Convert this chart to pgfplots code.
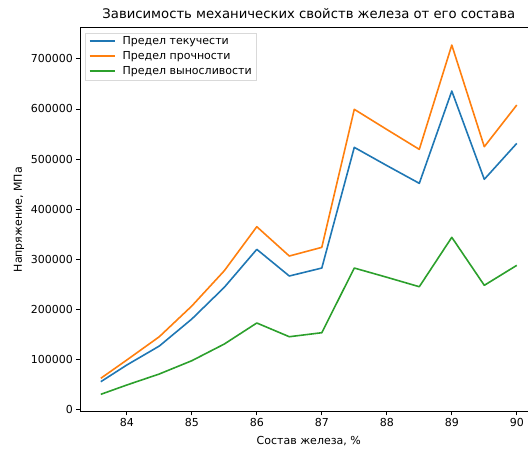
\documentclass[border=0pt]{standalone}
\usepackage{fontspec}
\setmainfont{DejaVu Sans}
\usepackage{pgfplots}
\pgfplotsset{compat=1.18}
\definecolor{tabblue}{HTML}{1F77B4}
\definecolor{taborange}{HTML}{FF7F0E}
\definecolor{tabgreen}{HTML}{2CA02C}
\newcommand{\fs}{\fontsize{11}{13}\selectfont}
% legend key: a short coloured rule in front of the entry text
\newcommand{\key}[1]{{\color{#1}\rule[0.3em]{25pt}{2pt}}\hspace{8pt}}
\pgfplotsset{
  mplline/.style={line width=1.6pt, line join=round},
}

\begin{document}
\begin{tikzpicture}[x=1pt,y=1pt]
\begin{axis}[
  at={(80pt,40.2pt)}, anchor=south west,
  scale only axis, width=457.6pt, height=384.2pt,
  xmin=83.28, xmax=90.32, ymin=-4560, ymax=762360,
  xtick={84,85,86,87,88,89,90},
  ytick={0,100000,200000,300000,400000,500000,600000,700000},
  scaled y ticks=false,
  /pgf/number format/assume math mode=true,
  yticklabel style={/pgf/number format/.cd, fixed, 1000 sep={}},
  ticklabel style={font=\fs},
  tick align=outside, tick pos=left, major tick length=3.5pt,
  tick style={black, line width=0.7pt},
  axis line style={line width=0.7pt},
  title={Зависимость механических свойств железа от его состава},
  title style={font=\fontsize{13.2}{15}\selectfont, at={(0.5,1)}, anchor=south, yshift=-1pt},
  xlabel={Состав железа, \%},
  ylabel={Напряжение, МПа},
  label style={font=\fs},
  xlabel style={yshift=-2pt},
  legend style={at={(0,1)}, anchor=north west, xshift=5.5pt, yshift=-5pt,
    draw=black!15, fill=white, font=\fs,
    inner xsep=2pt, inner ysep=2pt, row sep=1.5pt},
  legend cell align=left,
  legend image code/.code={},
]
\addplot[color=tabblue, mplline] coordinates {
  (83.6,55500) (84,88800) (84.5,126700) (85,180600) (85.5,243900)
  (86,319700) (86.5,266500) (87,282400) (87.5,523300) (88,487000)
  (88.5,451500) (89,635700) (89.5,459500) (90,531300)};
\addlegendentry{\key{tabblue}Предел текучести}
\addplot[color=taborange, mplline] coordinates {
  (83.6,62300) (84,98800) (84.5,145300) (85,206600) (85.5,277000)
  (86,364900) (86.5,306400) (87,323700) (87.5,599200) (88,559000)
  (88.5,519300) (89,727500) (89.5,524600) (90,607800)};
\addlegendentry{\key{taborange}Предел прочности}
\addplot[color=tabgreen, mplline] coordinates {
  (83.6,30300) (84,48900) (84.5,70900) (85,97400) (85.5,130700)
  (86,172700) (86.5,145300) (87,153300) (87.5,282400) (88,264000)
  (88.5,245100) (89,343700) (89.5,247900) (90,287800)};
\addlegendentry{\key{tabgreen}Предел выносливости}
\end{axis}
\pgfresetboundingbox
\path[use as bounding box] (0,0) rectangle (528,452);
\end{tikzpicture}
\end{document}
